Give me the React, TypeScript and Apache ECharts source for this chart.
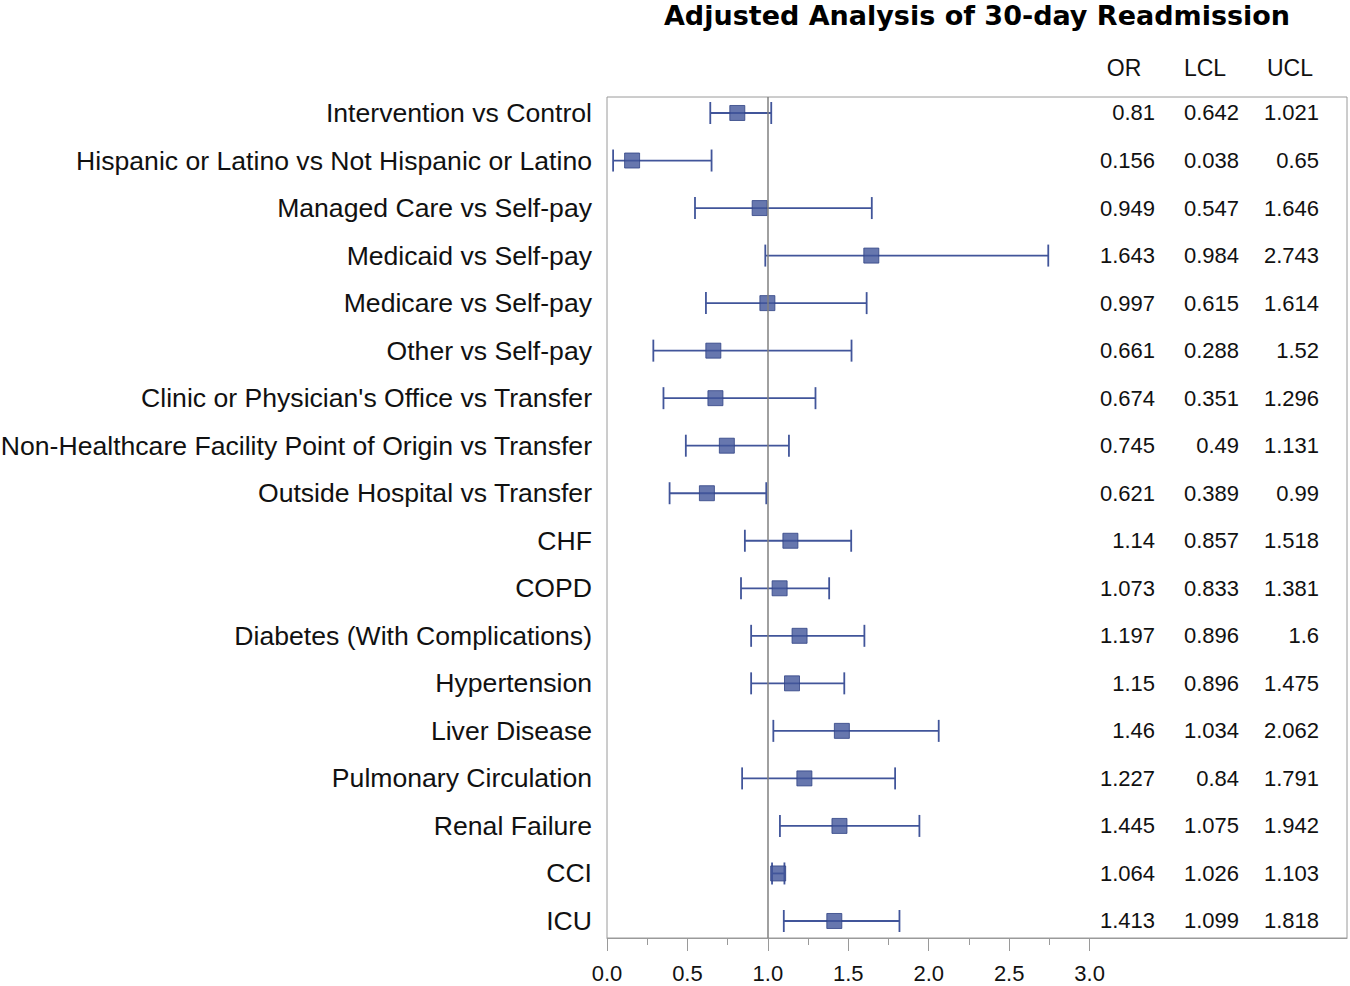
import React, { useEffect, useRef } from "react";
import * as echarts from "echarts";

const categories = [
  "Intervention vs Control",
  "Hispanic or Latino vs Not Hispanic or Latino",
  "Managed Care vs Self-pay",
  "Medicaid vs Self-pay",
  "Medicare vs Self-pay",
  "Other vs Self-pay",
  "Clinic or Physician's Office vs Transfer",
  "Non-Healthcare Facility Point of Origin vs Transfer",
  "Outside Hospital vs Transfer",
  "CHF",
  "COPD",
  "Diabetes (With Complications)",
  "Hypertension",
  "Liver Disease",
  "Pulmonary Circulation",
  "Renal Failure",
  "CCI",
  "ICU",
];
const orValues = [0.81, 0.156, 0.949, 1.643, 0.997, 0.661, 0.674, 0.745, 0.621, 1.14, 1.073, 1.197, 1.15, 1.46, 1.227, 1.445, 1.064, 1.413];
const lclValues = [0.642, 0.038, 0.547, 0.984, 0.615, 0.288, 0.351, 0.49, 0.389, 0.857, 0.833, 0.896, 0.896, 1.034, 0.84, 1.075, 1.026, 1.099];
const uclValues = [1.021, 0.65, 1.646, 2.743, 1.614, 1.52, 1.296, 1.131, 0.99, 1.518, 1.381, 1.6, 1.475, 2.062, 1.791, 1.942, 1.103, 1.818];
const xTickLabels = [0, 0.5, 1, 1.5, 2, 2.5, 3];
const xMinorTicks = [0.25, 0.75, 1.25, 1.75, 2.25, 2.75];
const tableHeaders = ["OR", "LCL", "UCL"];

const BLUE = "#41559a";
const GREY = "#9a9a9a";
const FONT = "'Liberation Sans', Arial, sans-serif";

export default function App() {
  const ref = useRef<HTMLDivElement>(null);

  useEffect(() => {
    if (!ref.current) return;
    const chart = echarts.init(ref.current, null, { renderer: "svg" });

    const colRight = [1155, 1239, 1319];
    const colHeaderCenter = [1124, 1205, 1290];

    const option: any = {
      animation: false,
      backgroundColor: "#ffffff",
      grid: {
        left: 607,
        top: 97,
        right: 3,
        bottom: 48,
        containLabel: false,
        outerBoundsMode: "none",
        show: true,
        borderColor: GREY,
        borderWidth: 1,
        backgroundColor: "transparent",
      },
      graphic: [
        {
          type: "text",
          x: 977,
          y: 15,
          style: {
            text: "Adjusted Analysis of 30-day Readmission",
            font: "bold 27px 'DejaVu Sans', sans-serif",
            fill: "#000",
            textAlign: "center",
            textVerticalAlign: "middle",
          },
        },
        ...tableHeaders.map((h, k) => ({
          type: "text",
          x: colHeaderCenter[k],
          y: 68,
          style: {
            text: h,
            font: `23px ${FONT}`,
            fill: "#111",
            textAlign: "center",
            textVerticalAlign: "middle",
          },
        })),
      ],
      xAxis: [
        {
          type: "value",
          min: 0,
          max: 4.6,
          position: "bottom",
          splitLine: { show: false },
          axisLine: { show: true, onZero: false, lineStyle: { color: GREY, width: 1 } },
          axisTick: {
            show: true,
            length: 13,
            customValues: xTickLabels,
            lineStyle: { color: GREY, width: 1 },
          },
          axisLabel: {
            show: true,
            customValues: xTickLabels,
            formatter: (v: number) => v.toFixed(1),
            fontFamily: FONT,
            fontSize: 22,
            color: "#111",
            margin: 24,
          },
        },
        {
          type: "value",
          min: 0,
          max: 4.6,
          position: "bottom",
          splitLine: { show: false },
          axisLine: { show: false, onZero: false },
          axisTick: {
            show: true,
            length: 7,
            customValues: xMinorTicks,
            lineStyle: { color: GREY, width: 1 },
          },
          axisLabel: { show: false },
        },
      ],
      yAxis: {
        type: "value",
        inverse: true,
        min: -0.3366,
        max: 17.358,
        splitLine: { show: false },
        axisLine: { show: false },
        axisTick: { show: false },
        axisLabel: {
          show: true,
          customValues: categories.map((_, i) => i),
          formatter: (v: number) => categories[Math.round(v)] ?? "",
          fontFamily: FONT,
          fontSize: 26.6,
          color: "#111",
          margin: 15,
        },
      },
      series: [
        {
          type: "line",
          data: [],
          z: 1,
          markLine: {
            silent: true,
            symbol: "none",
            label: { show: false },
            lineStyle: { color: "#808080", width: 1.5, type: "solid" },
            data: [{ xAxis: 1 }],
          },
        },
        {
          type: "custom",
          z: 3,
          data: categories.map((_, i) => [i, lclValues[i], uclValues[i]]),
          renderItem: (params: any, api: any) => {
            const i = api.value(0);
            const p1 = api.coord([api.value(1), i]);
            const p2 = api.coord([api.value(2), i]);
            const h = 11;
            const style = { stroke: BLUE, lineWidth: 1.8 };
            return {
              type: "group",
              children: [
                { type: "line", shape: { x1: p1[0], y1: p1[1], x2: p2[0], y2: p2[1] }, style },
                { type: "line", shape: { x1: p1[0], y1: p1[1] - h, x2: p1[0], y2: p1[1] + h }, style },
                { type: "line", shape: { x1: p2[0], y1: p2[1] - h, x2: p2[0], y2: p2[1] + h }, style },
              ],
            };
          },
        },
        {
          type: "scatter",
          z: 4,
          symbol: "rect",
          symbolSize: 15,
          itemStyle: { color: BLUE, borderColor: "#2f4285", borderWidth: 1 },
          data: categories.map((_, i) => [orValues[i], i]),
        },
        {
          type: "custom",
          z: 5,
          data: categories.map((_, i) => [i, orValues[i], lclValues[i], uclValues[i]]),
          renderItem: (params: any, api: any) => {
            const i = api.value(0);
            const y = api.coord([0, i])[1];
            const vals = [api.value(1), api.value(2), api.value(3)];
            return {
              type: "group",
              children: vals.map((v: number, k: number) => ({
                type: "text",
                x: colRight[k],
                y,
                style: {
                  text: String(v),
                  font: `22px ${FONT}`,
                  fill: "#111",
                  textAlign: "right",
                  textVerticalAlign: "middle",
                },
              })),
            };
          },
        },
      ],
    };

    chart.setOption(option);
    return () => chart.dispose();
  }, []);

  return (
    <div
      ref={ref}
      style={{ position: "fixed", left: 0, top: 0, width: 1350, height: 986, background: "#fff" }}
    />
  );
}
